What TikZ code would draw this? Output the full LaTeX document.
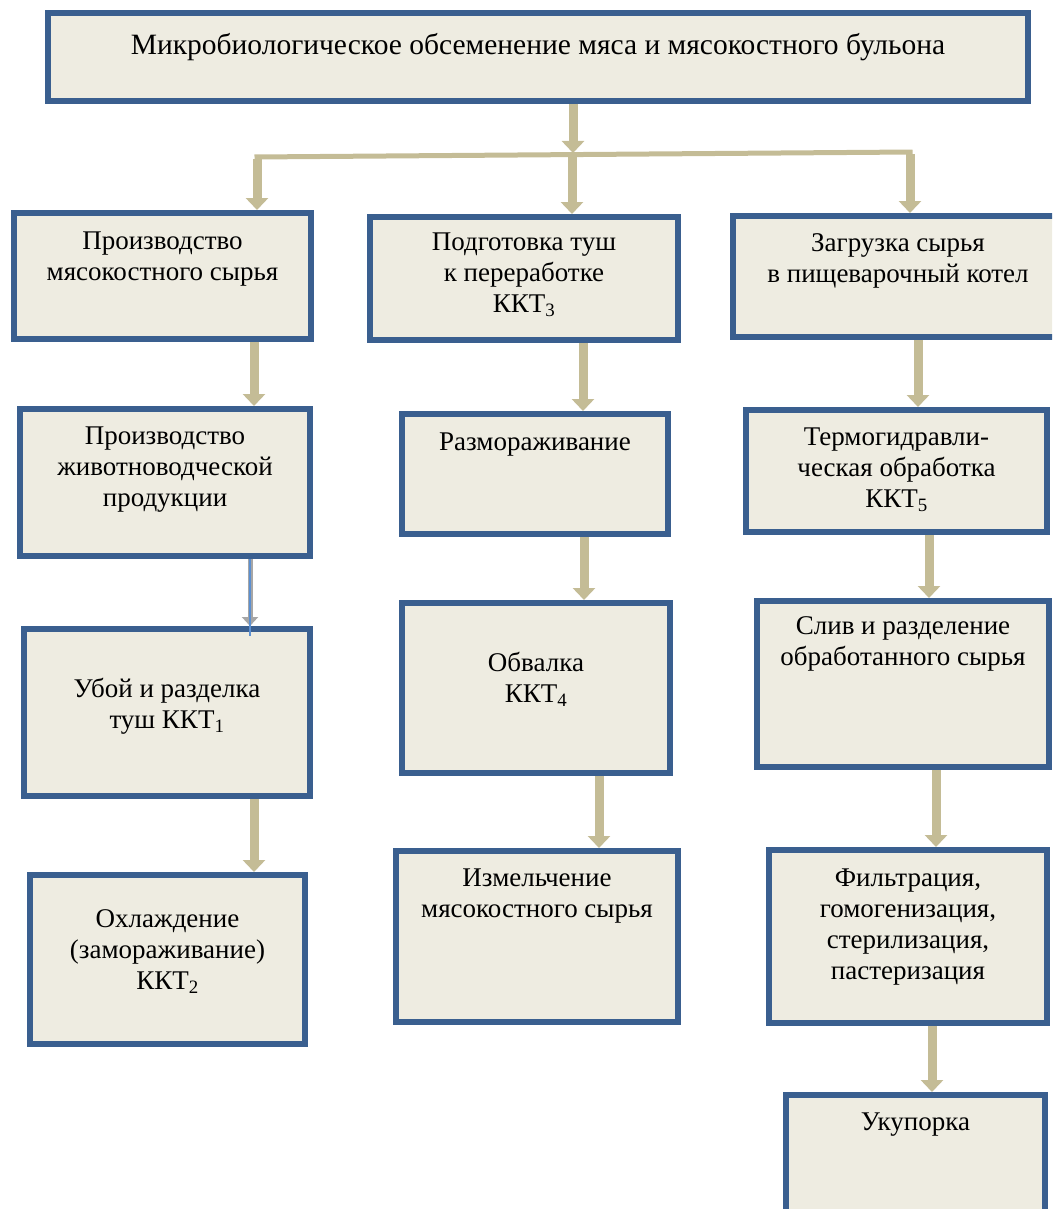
\documentclass[tikz,border=0pt]{standalone}
\usepackage{fontspec}
\setmainfont{Liberation Serif}
\usetikzlibrary{arrows.meta}
\definecolor{boxfill}{HTML}{EEECE1}
\definecolor{boxline}{HTML}{3A5F8F}
\definecolor{tan}{HTML}{C4BC96}
\definecolor{thingray}{HTML}{A6A6A6}
\definecolor{thinblue}{HTML}{5B8FD0}
\begin{document}
\begin{tikzpicture}[x=1pt,y=-1pt,
  box/.style={draw=boxline, fill=boxfill, line width=6pt, inner sep=0pt, rectangle},
  txt/.style={anchor=north, inner sep=0pt, align=center, font=\fontsize{27}{31}\selectfont},
  arr/.style={draw=tan, line width=9pt, -{Triangle[width=22pt,length=12pt]}},
  hline/.style={draw=tan, line width=5pt},
]
\useasboundingbox (0,0) rectangle (1052,1209);
\clip (0,0) rectangle (1052,1209);

% boxes
\node[box, minimum width=980pt, minimum height=88pt] (top) at (538,57) {};
\node[box, minimum width=297pt, minimum height=126pt] (a1) at (162.5,276) {};
\node[box, minimum width=308pt, minimum height=123pt] (b1) at (524,278.5) {};
\node[box, minimum width=330pt, minimum height=121pt] (c1) at (898,276.5) {};
\node[box, minimum width=290pt, minimum height=147pt] (a2) at (165,482.5) {};
\node[box, minimum width=266pt, minimum height=120pt] (b2) at (535,474) {};
\node[box, minimum width=301pt, minimum height=122pt] (c2) at (896.5,471) {};
\node[box, minimum width=286pt, minimum height=167pt] (a3) at (167,712.5) {};
\node[box, minimum width=268pt, minimum height=170pt] (b3) at (536,688) {};
\node[box, minimum width=292pt, minimum height=166pt] (c3) at (903,684) {};
\node[box, minimum width=275pt, minimum height=169pt] (a4) at (167.5,959.5) {};
\node[box, minimum width=282pt, minimum height=171pt] (b4) at (537,936.5) {};
\node[box, minimum width=278pt, minimum height=173pt] (c4) at (908,936.5) {};
\node[box, minimum width=259pt, minimum height=132pt] (c5) at (915.5,1161) {};

% texts
\node[txt, font=\fontsize{29.5}{34}\selectfont] (topt) at (538,33) {Микробиологическое обсеменение мяса и мясокостного бульона};
\node[txt] (a1t) at (162.5,232) {Производство\\мясокостного сырья};
\node[txt] (b1t) at (524,233) {Подготовка туш\\к переработке\\ККТ\textsubscript{3}};
\node[txt] (c1t) at (898,233) {Загрузка сырья\\в пищеварочный котел};
\node[txt] (a2t) at (165,427) {Производство\\животноводческой\\продукции};
\node[txt] (b2t) at (535,433) {Размораживание};
\node[txt] (c2t) at (896.5,428) {Термогидравли-\\ческая обработка\\ККТ\textsubscript{5}};
\node[txt] (a3t) at (167,678) {Убой и разделка\\туш ККТ\textsubscript{1}};
\node[txt] (b3t) at (536,652) {Обвалка\\ККТ\textsubscript{4}};
\node[txt] (c3t) at (903,616) {Слив и разделение\\обработанного сырья};
\node[txt] (a4t) at (167.5,909) {Охлаждение\\(замораживание)\\ККТ\textsubscript{2}};
\node[txt] (b4t) at (537,869) {Измельчение\\мясокостного сырья};
\node[txt] (c4t) at (908,869) {Фильтрация,\\гомогенизация,\\стерилизация,\\пастеризация};
\node[txt] (c5t) at (915.5,1113) {Укупорка};

% distribution
\coordinate (j) at (573,153);
\coordinate (jl) at (257,157);
\coordinate (jm) at (572,155);
\coordinate (jr) at (910,152);
\draw[hline] ([xshift=-2.5pt]jl) -- ([xshift=2.5pt]jr);
\draw[arr] (573,0 |- top.south) -- (j);
\draw[arr] ([yshift=-2.5pt]jl) -- (jl |- a1.north);
\draw[arr] (jm) -- (jm |- b1.north);
\draw[arr] ([yshift=-2.5pt]jr) -- (jr |- c1.north);

% column A
\draw[arr] (254,0 |- a1.south) -- (254,0 |- a2.north);
\draw[draw=thingray, line width=5pt, -{Triangle[width=16pt,length=9pt]}] (250,0 |- a2.south) -- (250,0 |- a3.north);
\draw[draw=thinblue, line width=1.5pt] (250,0 |- a2.south) -- ([yshift=-10pt]250,0 |- a3.north);
\draw[arr] (254,0 |- a3.south) -- (254,0 |- a4.north);

% column B
\draw[arr] (583,0 |- b1.south) -- (583,0 |- b2.north);
\draw[arr] (584,0 |- b2.south) -- (584,0 |- b3.north);
\draw[arr] (599,0 |- b3.south) -- (599,0 |- b4.north);

% column C
\draw[arr] (918,0 |- c1.south) -- (918,0 |- c2.north);
\draw[arr] (929,0 |- c2.south) -- (929,0 |- c3.north);
\draw[arr] (936,0 |- c3.south) -- (936,0 |- c4.north);
\draw[arr] (932,0 |- c4.south) -- (932,0 |- c5.north);
\end{tikzpicture}
\end{document}
